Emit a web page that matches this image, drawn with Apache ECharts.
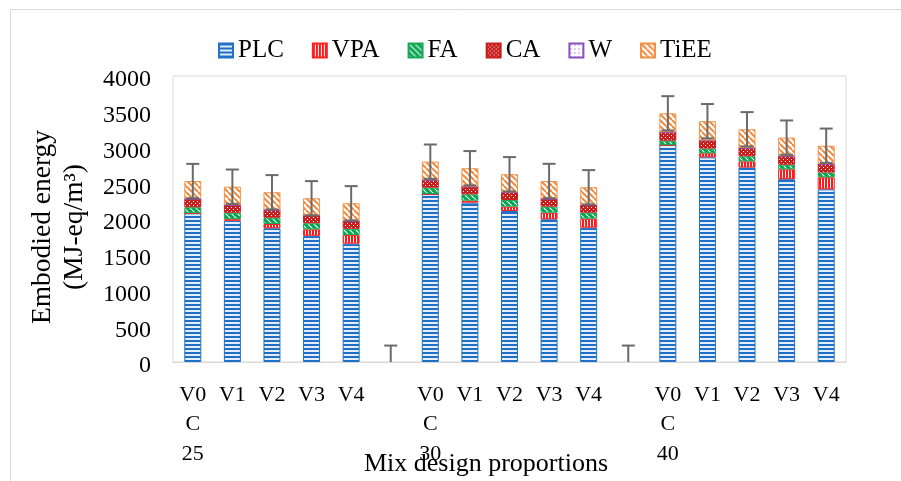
<!DOCTYPE html>
<html>
<head>
<meta charset="utf-8">
<script src="https://cdn.jsdelivr.net/npm/echarts@6/dist/echarts.min.js"></script>
<style>html,body{margin:0;padding:0;background:#fff}#c{width:901px;height:481px}</style>
</head>
<body>
<div id="c"></div>
<script>
// ---- data ----
const categories = ['V0\nC\n25','V1','V2','V3','V4','',
                    'V0\nC\n30','V1','V2','V3','V4','',
                    'V0\nC\n40','V1','V2','V3','V4'];
const seriesNames = ['PLC','VPA','FA','CA','W','TiEE'];
const PLC  = [2080,1975,1870,1765,1655,null, 2350,2228,2112,1996,1878,null, 3035,2863,2720,2557,2415];
const VPA  = [0,22,60,90,120,null,            0,28,60,92,126,null,            0,56,86,138,168];
const FA   = [84,90,88,85,88,null,            88,89,94,84,84,null,            60,66,70,64,67];
const CA   = [116,108,108,112,108,null,       107,107,107,108,108,null,       118,112,116,120,118];
const W    = [1,1,1,1,1,null,                 1,1,1,1,1,null,                 1,1,1,1,1];
const TiEE = [250,256,247,237,248,null,       256,257,252,251,247,null,       264,270,262,258,256];
const errors = [240,240,240,240,240,230, 240,240,240,240,240,230, 240,240,240,240,240];
const yTicks = {min:0, max:4000, interval:500};

// ---- patterns ----
function pat(w,h,draw){const c=document.createElement('canvas');c.width=w;c.height=h;const g=c.getContext('2d');draw(g,w,h);return {image:c,repeat:'repeat'};}
const pPLC = pat(4,4,(g)=>{g.fillStyle='#e3eefa';g.fillRect(0,0,4,4);g.fillStyle='#1f6fc6';g.fillRect(0,0,4,2);});
const pVPA = pat(3,3,(g)=>{g.fillStyle='#ffffff';g.fillRect(0,0,3,3);g.fillStyle='#ff1a1a';g.fillRect(0,0,2,3);});
const pFA  = pat(6,6,(g)=>{g.fillStyle='#00a650';g.fillRect(0,0,6,6);g.strokeStyle='#ffffff';g.lineWidth=1.2;
  for(const o of [-6,0,6]){g.beginPath();g.moveTo(o,0);g.lineTo(o+6,6);g.stroke();}});
const pCA  = pat(4,4,(g)=>{g.fillStyle='#c81e1e';g.fillRect(0,0,4,4);g.fillStyle='#ffffff';g.fillRect(1,1,1,1);g.fillRect(3,3,1,1);});
const pW   = pat(4,4,(g)=>{g.fillStyle='#ffffff';g.fillRect(0,0,4,4);g.fillStyle='#7030a0';g.fillRect(1,1,1,1);});
const pTi  = pat(6,6,(g)=>{g.fillStyle='#ffffff';g.fillRect(0,0,6,6);g.strokeStyle='#f08a3c';g.lineWidth=2;
  for(const o of [-6,0,6]){g.beginPath();g.moveTo(o,0);g.lineTo(o+6,6);g.stroke();}});

const styles = {
  PLC:{color:pPLC,borderColor:'#2271c9'},
  VPA:{color:pVPA,borderColor:'#ff2020'},
  FA:{color:pFA,borderColor:'#1aa755'},
  CA:{color:pCA,borderColor:'#c81e1e'},
  W:{color:pW,borderColor:'#8a4fbf'},
  TiEE:{color:pTi,borderColor:'#f29147'}
};
const valuesByName = {PLC, VPA, FA, CA, W, TiEE};

const totals = categories.map((_,i)=>seriesNames.reduce((s,n)=>s+(valuesByName[n][i]||0),0));
const errData = categories.map((_,i)=>[i,totals[i],errors[i]]);

const font = 'Liberation Serif, Times New Roman, serif';

const barSeries = seriesNames.map(n=>({
  name:n, type:'bar', stack:'total', barWidth:17,
  data:valuesByName[n],
  itemStyle:{color:styles[n].color,borderColor:styles[n].borderColor,borderWidth:1},
  emphasis:{disabled:true}
}));

const chart = echarts.init(document.getElementById('c'),null,{renderer:'canvas'});
chart.setOption({
  animation:false,
  backgroundColor:'#ffffff',
  grid:{left:173,right:55,top:76,bottom:119,show:true,borderColor:'#d9d9d9',borderWidth:1,backgroundColor:'transparent'},
  legend:{data:seriesNames,left:218,top:38,padding:0,icon:'rect',itemWidth:14,itemHeight:14,itemGap:28,
    textStyle:{fontFamily:font,fontSize:25,color:'#000'}},
  xAxis:{type:'category',data:categories,
    axisLine:{show:true,lineStyle:{color:'#d9d9d9',width:1}},axisTick:{show:false},
    axisLabel:{interval:0,fontFamily:font,fontSize:22,color:'#000',lineHeight:29.5,margin:18,verticalAlign:'top'}},
  yAxis:{type:'value',min:yTicks.min,max:yTicks.max,interval:yTicks.interval,
    axisLine:{show:false},axisTick:{show:false},splitLine:{show:false},
    axisLabel:{fontFamily:font,fontSize:24,color:'#000',margin:22,verticalAlign:'top',lineHeight:8,formatter:(v)=>String(v)}},
  graphic:[
    {type:'rect',shape:{x:10.5,y:9.5,width:900,height:480},style:{fill:'none',stroke:'#d9d9d9',lineWidth:1},silent:true,z:-10},
    {type:'text',x:486,y:464,style:{text:'Mix design proportions',font:'26px '+font,fill:'#000',textAlign:'center',textVerticalAlign:'middle'}},
    {type:'text',x:59,y:227,rotation:Math.PI/2,style:{text:'Embodied energy\n(MJ-eq/m³)',font:'27.5px '+font,fill:'#000',textAlign:'center',textVerticalAlign:'middle',lineHeight:32}}
  ],
  series:[...barSeries,{
    type:'custom',name:'err',z:5,data:errData,
    renderItem:function(params,api){
      const x=api.value(0),t=api.value(1),e=api.value(2);
      const top=api.coord([x,t+e]);
      const bot=api.coord([x,Math.max(t-e,0)]);
      const hw=6.5;
      const st={stroke:'#6a6a6a',lineWidth:2};
      const ch=[
        {type:'line',shape:{x1:top[0],y1:top[1],x2:bot[0],y2:bot[1]},style:st},
        {type:'line',shape:{x1:top[0]-hw,y1:top[1],x2:top[0]+hw,y2:top[1]},style:st}
      ];
      if(t-e>0) ch.push({type:'line',shape:{x1:bot[0]-hw,y1:bot[1],x2:bot[0]+hw,y2:bot[1]},style:st});
      return {type:'group',children:ch};
    }
  }]
});
</script>
</body>
</html>
